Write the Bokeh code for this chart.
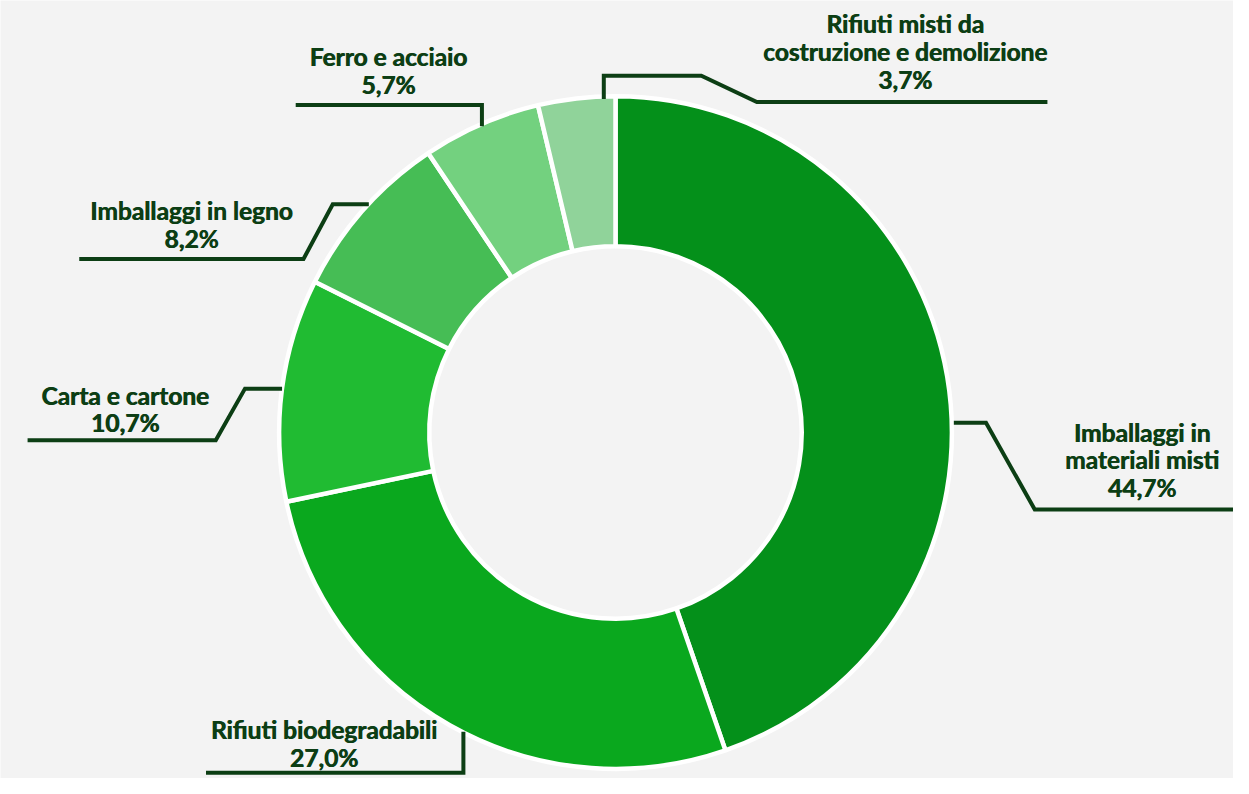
import math
from bokeh.plotting import figure
from bokeh.models import Range1d, ColumnDataSource
from bokeh.core.properties import value
from bokeh.embed import file_html
from bokeh.resources import INLINE

# ---- data ----
categories = [
    ["Imballaggi in", "materiali misti"],
    ["Rifiuti biodegradabili"],
    ["Carta e cartone"],
    ["Imballaggi in legno"],
    ["Ferro e acciaio"],
    ["Rifiuti misti da", "costruzione e demolizione"],
]
shares = [44.7, 27.0, 10.7, 8.2, 5.7, 3.7]
share_labels = ["44,7%", "27,0%", "10,7%", "8,2%", "5,7%", "3,7%"]
colors = ["#04901a", "#0aa81e", "#20bb32", "#46bd55", "#73d17f", "#90d39a"]

# ---- layout (reference pixel space, y measured downwards, flipped below) ----
REF_H = 794
CX, CY = 615, 437
R_OUT, R_IN = 345, 191
label_pos = [(1155, 465), (316, 756), (112, 413), (180, 224), (382, 66), (912, 46)]
LINE_STEP = 28.5
leaders = [
    ([962, 995, 1045, 1260], [427, 427, 516, 516]),
    ([459, 459, 195], [744, 786, 786]),
    ([273, 235, 205, 12], [392, 392, 445, 445]),
    ([362, 325, 295, 65], [203, 203, 259, 259]),
    ([478, 478, 287], [123, 101, 101]),
    ([603, 603, 703, 760, 1058], [95, 71, 71, 98, 98]),
]


def fy(y):
    return REF_H - y


TXT = "#0c3e14"
S = 0.975
W, H = 1233, 778
SCR_CX, SCR_CY = 615, 432
x0 = CX - SCR_CX / S
ytop = CY - SCR_CY / S            # ref y at top of frame
ybot = ytop + H / S
p = figure(width=W, height=H, output_backend="svg", toolbar_location=None,
           x_range=Range1d(x0, x0 + W / S), y_range=Range1d(fy(ybot), fy(ytop)),
           min_border=0)
p.axis.visible = False
p.grid.visible = False
p.outline_line_color = None
p.background_fill_color = "#f3f3f3"
p.border_fill_color = "#f3f3f3"

total = sum(shares)
starts, ends = [], []
cum = 0.0
for s in shares:
    starts.append(math.pi / 2 - 2 * math.pi * cum / total)
    cum += s
    ends.append(math.pi / 2 - 2 * math.pi * cum / total)

src = ColumnDataSource(dict(x=[CX] * len(shares), y=[fy(CY)] * len(shares),
                            start=starts, end=ends, color=colors))
p.annular_wedge(x="x", y="y", inner_radius=R_IN, outer_radius=R_OUT,
                start_angle="start", end_angle="end", direction="clock",
                fill_color="color", line_color="white", line_width=4.5,
                source=src)

for xs, ys in leaders:
    p.line(xs, [fy(v) for v in ys], line_color=TXT, line_width=4, line_join="miter")

tx, ty, tt = [], [], []
for (cx, cy), cat, val in zip(label_pos, categories, share_labels):
    lines = cat + [val]
    n = len(lines)
    for i, t in enumerate(lines):
        tx.append(cx)
        ty.append(fy(cy + (i - (n - 1) / 2) * LINE_STEP))
        tt.append(t)

for dx in (0.0, 0.7):
    p.text(x=[v + dx for v in tx], y=ty, text=tt, text_align="center",
           text_baseline="middle", text_font=value("Lato"),
           text_font_style="bold", text_font_size="24.5px", text_color=TXT)

open("out.html", "w").write(file_html(p, INLINE))
